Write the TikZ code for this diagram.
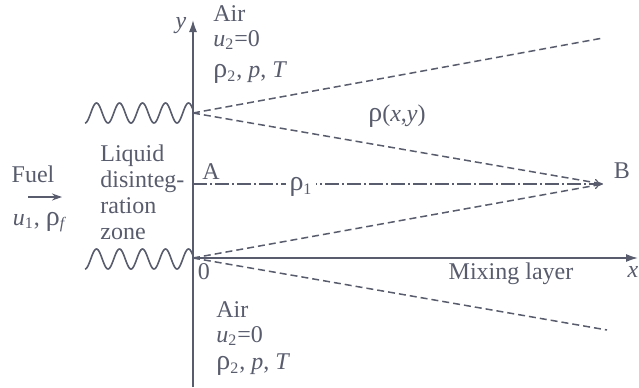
\documentclass[tikz,border=0pt]{standalone}
\usepackage{fontspec}
\setmainfont{Liberation Serif}
\usepackage{xcolor}
\usepackage{tikz}
\definecolor{inkgray}{RGB}{88,92,108}
\usetikzlibrary{arrows.meta}
\newcommand{\rhosym}{{\fontsize{14}{13}\selectfont ρ}}

\begin{document}
\begin{tikzpicture}[x=0.5pt, y=-0.5pt,
  every node/.style={font=\fontsize{12}{13}\selectfont, text=inkgray, inner sep=0pt},
  axisline/.style={draw=inkgray, line width=0.8pt, -{Latex[length=6pt,width=4pt]}},
  layer/.style={draw=inkgray, line width=0.75pt, dash pattern=on 3.5pt off 2pt},
  centreline/.style={draw=inkgray, line width=0.6pt, dash pattern=on 7pt off 1.5pt on 1pt off 1.5pt, -{To[length=4pt,width=5pt]}},
  wave/.style={draw=inkgray, line width=0.8pt}]
\useasboundingbox (0,0) rectangle (639,387);
% Points
\coordinate (O) at (193,258);
\coordinate (J) at (193,113);
\coordinate (A) at (193,184);
\coordinate (B) at (603,184);
\coordinate (ytop) at (193,20);
\coordinate (ybot) at (193,387);
\coordinate (xend) at (638,258);
\coordinate (upend) at (603,38);
\coordinate (loend) at (607,330);
\coordinate (f0) at (28,197);
\coordinate (f1) at (62,197);
% Atomizer surfaces
\foreach \c in {113,259} {
    \draw[wave] plot[domain=85:193, samples=150, smooth] (\x, {\c+10*cos(15.65*(\x-85))});
}
% Axes
\draw[axisline] (ybot) -- (ytop);
\draw[axisline] (O) -- (xend);
% Mixing layer boundaries
\draw[layer] (J) -- (upend);
\draw[layer] (J) -- (B);
\draw[layer] (O) -- (B);
\draw[layer] (O) -- (loend);
\draw[centreline] (A) -- (B);
% Fuel
\draw[draw=inkgray, line width=0.8pt, -{Stealth[length=5pt,width=3.5pt]}] (f0) -- (f1);
\node (fuel) at (33,174) {Fuel};
\node (fuelprop) at (40,222) {\textit{u}\textsubscript{1}, \rhosym\textsubscript{\textit{f}}};
\node[anchor=north west, align=left] (zone) at (100,144) {Liquid\\disinteg-\\ration\\zone};
% Labels
\node (ylab) at (181,26) {\textit{y}};
\node (xlab) at (633,272) {\textit{x}};
\node (olab) at (204,272) {0};
\node (alab) at (211,172) {A};
\node (blab) at (622,171) {B};
\node[fill=white, inner xsep=2pt, inner ysep=1pt] (rho1) at (301,187) {\rhosym\textsubscript{1}};
\node (rhoxy) at (397,116) {\rhosym(\textit{x},\textit{y})};
\node (mix) at (511,274) {Mixing layer};
% Air above and below
\node[anchor=west] (airt) at (213,14) {Air};
\node[anchor=west] (u2t) at (213,40) {\textit{u}\textsubscript{2}=0};
\node[anchor=west] (rho2t) at (213,73) {\rhosym\textsubscript{2}, \textit{p}, \textit{T}};
\node[anchor=west] (airb) at (216,310) {Air};
\node[anchor=west] (u2b) at (216,336) {\textit{u}\textsubscript{2}=0};
\node[anchor=west] (rho2b) at (216,365) {\rhosym\textsubscript{2}, \textit{p}, \textit{T}};
\end{tikzpicture}
\end{document}
